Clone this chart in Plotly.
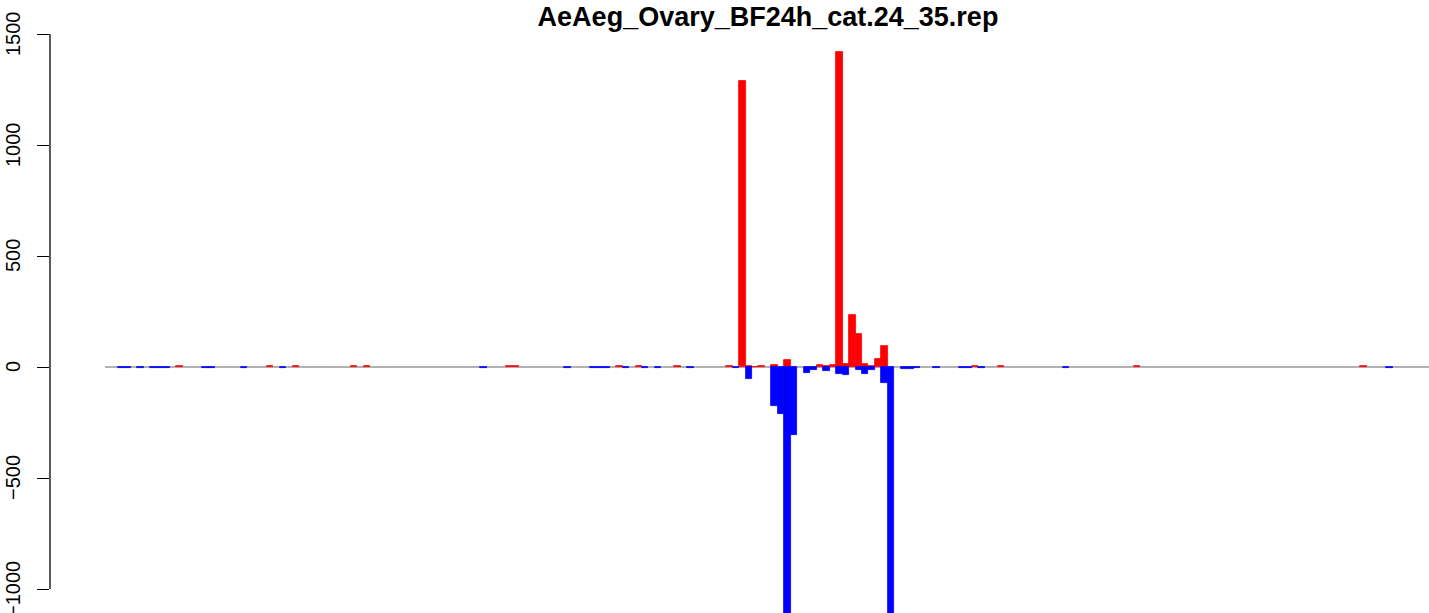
import plotly.graph_objects as go

title_text = "AeAeg_Ovary_BF24h_cat.24_35.rep"
n_bins = 204

red_pos = [11, 25, 29, 38, 40, 62, 63, 79, 82, 88, 96, 98, 99, 100, 101, 103, 105,
           110, 111, 112, 113, 114, 115, 116, 117, 118, 119, 120, 134, 138, 159, 194]
red_val = [3, 3, 3, 3, 3, 3, 3, 3, 3, 3, 3, 1288, 3, 2, 5, 8, 30,
           8, 3, 8, 1419, 12, 234, 149, 12, 5, 35, 93, 3, 3, 3, 3]

blue_pos = [2, 3, 5, 7, 8, 9, 15, 16, 21, 27, 58, 71, 75, 76, 77, 80, 83, 85, 90, 97,
            99, 103, 104, 105, 106, 108, 109, 111, 113, 114, 116, 117, 118, 120, 121,
            123, 124, 125, 128, 132, 133, 135, 148, 198]
blue_val = [-3, -3, -3, -3, -3, -3, -3, -3, -3, -3, -3, -3, -3, -3, -3, -3, -3, -3, -3, -3,
            -55, -177, -212, -1200, -306, -27, -14, -18, -33, -38, -14, -32, -14, -72, -1200,
            -9, -9, -3, -3, -3, -3, -3, -3, -3]

ytick_vals = [-1000, -500, 0, 500, 1000, 1500]
ytick_text = ["\u22121000", "\u2212500", "0", "500", "1000", "1500"]

W, H = 1429, 613

fig = go.Figure()
fig.add_trace(go.Bar(x=red_pos, y=red_val, width=1.0,
                     marker=dict(color="#FF0000", line=dict(color="#FF0000", width=0.8)),
                     showlegend=False))
fig.add_trace(go.Bar(x=blue_pos, y=blue_val, width=1.0,
                     marker=dict(color="#0000FF", line=dict(color="#0000FF", width=0.8)),
                     showlegend=False))

# baseline
fig.add_shape(type="line", xref="x", yref="y", x0=-0.5, x1=n_bins + 2, y0=0, y1=0,
              line=dict(color="#999999", width=1.6), layer="below")
# R-style axis line spanning only the tick range
fig.add_shape(type="line", xref="paper", yref="y", x0=0, x1=0,
              y0=ytick_vals[0], y1=ytick_vals[-1],
              line=dict(color="black", width=1.3), layer="above")

# rotated tick labels, R style
for v, t in zip(ytick_vals, ytick_text):
    fig.add_annotation(x=0, xref="paper", y=v, yref="y", text=t, showarrow=False,
                       textangle=-90, xanchor="center", yanchor="middle",
                       xshift=-37, font=dict(size=20, color="black"))

fig.update_layout(
    width=W, height=H,
    margin=dict(l=50, r=0, t=30, b=0, autoexpand=False),
    paper_bgcolor="white", plot_bgcolor="white",
    barmode="overlay", bargap=0,
    font=dict(family="Liberation Sans, Arial, sans-serif", color="black"),
    title=dict(text="<b>" + title_text + "</b>", x=768 / W, xanchor="center",
               y=1 - 17 / H, yanchor="middle", yref="container",
               font=dict(size=27, color="black")),
    xaxis=dict(visible=False, range=[-9.0, 204.14], fixedrange=True, automargin=False),
    yaxis=dict(range=[-1108, 1518], showgrid=False, zeroline=False, showline=False,
               automargin=False, showticklabels=False, fixedrange=True,
               tickmode="array", tickvals=ytick_vals,
               ticks="outside", ticklen=12, tickwidth=1.3, tickcolor="black"),
)

fig.write_html("out.html", config={"displayModeBar": False},
               post_script="document.body.style.margin='0px';document.body.style.overflow='hidden';")
